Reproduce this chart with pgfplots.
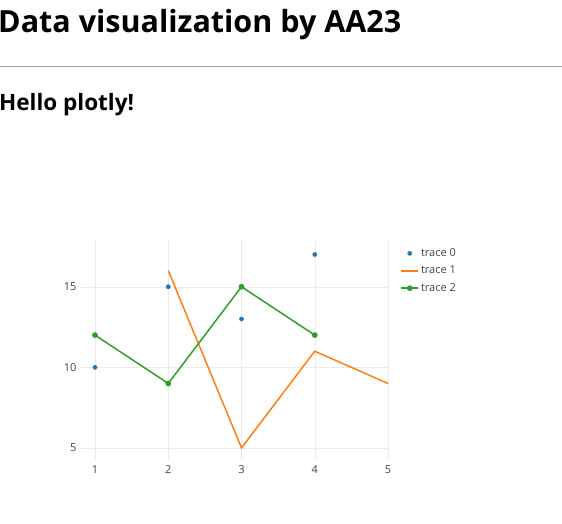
\documentclass[border=0pt]{standalone}
\usepackage{pgfplots}
\pgfplotsset{compat=1.18}
\usepackage{fontspec}
\setmainfont{Open Sans}
\definecolor{pblue}{HTML}{1F77B4}
\definecolor{porange}{HTML}{FF7F0E}
\definecolor{pgreen}{HTML}{2CA02C}
\definecolor{ptext}{HTML}{444444}
\begin{document}
\begin{tikzpicture}[x=1pt,y=1pt]
\path[use as bounding box] (0,0) rectangle (562,-523);
\node[anchor=west,inner sep=0,font=\bfseries\fontsize{30.5}{34}\selectfont] at (-2,-25) {Data visualization by AA23};
\draw[gray!70,line width=1pt] (0,-66) -- (562,-66);
\node[anchor=west,inner sep=0,font=\bfseries\fontsize{22.5}{26}\selectfont] at (-1,-105) {Hello plotly!};
\begin{axis}[at={(80pt,-460pt)},anchor=south west,
  width=308pt,height=220pt,scale only axis,
  xmin=0.795,xmax=5,ymin=4.25,ymax=17.9,
  axis line style={draw=none},
  xtick={1,2,3,4,5},ytick={5,10,15},
  major tick length=0pt,
  grid=major,grid style={color=black!8},
  tick label style={font=\fontsize{11}{12}\selectfont,text=ptext},
  /pgf/number format/assume math mode=true,
  xticklabel style={yshift=-2pt},
  clip=true,
  legend style={at={(1.03,0.98)},anchor=north west,draw=none,fill=none,
    font=\fontsize{11}{12}\selectfont,text=ptext,row sep=4pt},
  legend cell align=left,
]
\addplot[only marks,mark=*,mark size=2.1pt,color=pblue] coordinates {(1,10)(2,15)(3,13)(4,17)};
\addlegendentry{trace 0}
\addplot[line width=1.5pt,color=porange,no marks] coordinates {(2,16)(3,5)(4,11)(5,9)};
\addlegendentry{trace 1}
\addplot[line width=1.5pt,color=pgreen,mark=*,mark size=2.1pt] coordinates {(1,12)(2,9)(3,15)(4,12)};
\addlegendentry{trace 2}
\end{axis}
\end{tikzpicture}
\end{document}
